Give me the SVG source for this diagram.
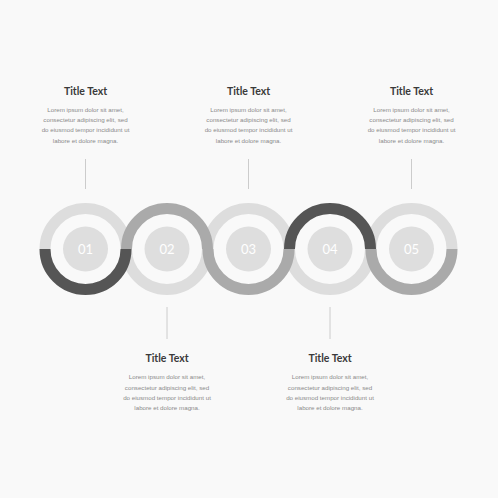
<svg xmlns="http://www.w3.org/2000/svg" width="498" height="498" viewBox="0 0 498 498">
<style>
.bg{fill:#f9f9f9}
.ring{fill:none;stroke-width:11;stroke-linecap:butt}
.l{stroke:#dddddd}
.m{stroke:#aaaaaa}
.d{stroke:#555555}
.core{fill:#dedede}
.num{font-family:Lato,"Liberation Sans",sans-serif;font-size:13px;fill:#ffffff;text-anchor:middle}
.title{font-family:Lato,"Liberation Sans",sans-serif;font-weight:bold;font-size:10.5px;fill:#3a3a3a;text-anchor:middle}
.body{font-family:"Liberation Sans",sans-serif;font-size:6.2px;fill:#8a8a8a;text-anchor:middle}
.conn{stroke:#cccccc;stroke-width:1}
</style>
<rect class="bg" x="0" y="0" width="498" height="498"/>
<g id="rings-light">
<path class="ring l" d="M45 249 A40.5 40.5 0 0 1 126 249"/>
<path class="ring l" d="M126.5 249 A40.5 40.5 0 0 0 207.5 249"/>
<path class="ring l" d="M208 249 A40.5 40.5 0 0 1 289 249"/>
<path class="ring l" d="M289.5 249 A40.5 40.5 0 0 0 370.5 249"/>
<path class="ring l" d="M371 249 A40.5 40.5 0 0 1 452 249"/>
</g>
<g id="rings-medium">
<path class="ring m" d="M126.5 249 A40.5 40.5 0 0 1 207.5 249"/>
<path class="ring m" d="M208 249 A40.5 40.5 0 0 0 289 249"/>
<path class="ring m" d="M371 249 A40.5 40.5 0 0 0 452 249"/>
</g>
<g id="rings-dark">
<path class="ring d" d="M45 249 A40.5 40.5 0 0 0 126 249"/>
<path class="ring d" d="M289.5 249 A40.5 40.5 0 0 1 370.5 249"/>
</g>
<g id="connectors">
<line class="conn" x1="85.5" y1="159" x2="85.5" y2="189"/>
<line class="conn" x1="248.5" y1="159" x2="248.5" y2="189"/>
<line class="conn" x1="411.5" y1="159" x2="411.5" y2="189"/>
<line class="conn" x1="167" y1="307" x2="167" y2="339"/>
<line class="conn" x1="330" y1="307" x2="330" y2="339"/>
</g>
<g id="node1">
<circle class="core" cx="85.5" cy="249" r="22.5"/>
<text class="num" x="85.5" y="253.5">01</text>
<text class="title" x="85.5" y="95">Title Text</text>
<text class="body" x="85.5" y="111.5">Lorem ipsum dolor sit amet,</text>
<text class="body" x="85.5" y="122">consectetur adipiscing elit, sed</text>
<text class="body" x="85.5" y="132.3">do eiusmod tempor incididunt ut</text>
<text class="body" x="85.5" y="142.7">labore et dolore magna.</text>
</g>
<g id="node2">
<circle class="core" cx="167" cy="249" r="22.5"/>
<text class="num" x="167" y="253.5">02</text>
<text class="title" x="167" y="362">Title Text</text>
<text class="body" x="167" y="379">Lorem ipsum dolor sit amet,</text>
<text class="body" x="167" y="389.5">consectetur adipiscing elit, sed</text>
<text class="body" x="167" y="399.7">do eiusmod tempor incididunt ut</text>
<text class="body" x="167" y="410">labore et dolore magna.</text>
</g>
<g id="node3">
<circle class="core" cx="248.5" cy="249" r="22.5"/>
<text class="num" x="248.5" y="253.5">03</text>
<text class="title" x="248.5" y="95">Title Text</text>
<text class="body" x="248.5" y="111.5">Lorem ipsum dolor sit amet,</text>
<text class="body" x="248.5" y="122">consectetur adipiscing elit, sed</text>
<text class="body" x="248.5" y="132.3">do eiusmod tempor incididunt ut</text>
<text class="body" x="248.5" y="142.7">labore et dolore magna.</text>
</g>
<g id="node4">
<circle class="core" cx="330" cy="249" r="22.5"/>
<text class="num" x="330" y="253.5">04</text>
<text class="title" x="330" y="362">Title Text</text>
<text class="body" x="330" y="379">Lorem ipsum dolor sit amet,</text>
<text class="body" x="330" y="389.5">consectetur adipiscing elit, sed</text>
<text class="body" x="330" y="399.7">do eiusmod tempor incididunt ut</text>
<text class="body" x="330" y="410">labore et dolore magna.</text>
</g>
<g id="node5">
<circle class="core" cx="411.5" cy="249" r="22.5"/>
<text class="num" x="411.5" y="253.5">05</text>
<text class="title" x="411.5" y="95">Title Text</text>
<text class="body" x="411.5" y="111.5">Lorem ipsum dolor sit amet,</text>
<text class="body" x="411.5" y="122">consectetur adipiscing elit, sed</text>
<text class="body" x="411.5" y="132.3">do eiusmod tempor incididunt ut</text>
<text class="body" x="411.5" y="142.7">labore et dolore magna.</text>
</g>
</svg>
